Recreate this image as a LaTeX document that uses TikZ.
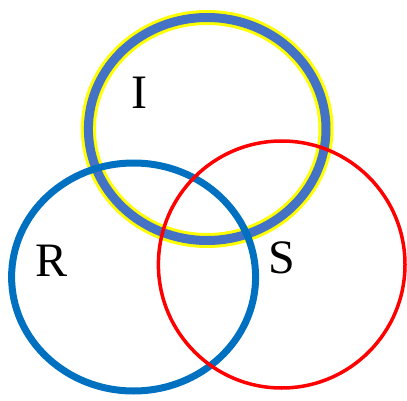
\documentclass[tikz,border=0pt]{standalone}
\usepackage{fontspec}
\setmainfont{Liberation Serif}
\definecolor{ibl}{HTML}{4472C4}
\definecolor{iyl}{HTML}{FFFF00}
\definecolor{rbl}{HTML}{0070C0}
\definecolor{sred}{HTML}{FF0000}
\begin{document}
\begin{tikzpicture}[x=1pt,y=-1pt,
  lbl/.style={inner sep=0pt,font=\fontsize{48}{48}\selectfont}]
\useasboundingbox (0,0) rectangle (407,401);
% I circle
\draw[iyl,line width=15pt] (207.2,129) ellipse [x radius=118.8,y radius=111.5];
\draw[ibl,line width=9pt] (207.2,129) ellipse [x radius=118.8,y radius=111.5];
% R circle
\draw[rbl,line width=7pt] (133.6,277) ellipse [x radius=122,y radius=114];
% S circle
\draw[sred,line width=3.5pt] (281.7,264.5) ellipse [x radius=123.3,y radius=123.5];
\node[lbl] (I) at (139,93) {I};
\node[lbl] (R) at (52,261) {R};
\node[lbl] (S) at (282,258) {S};
\end{tikzpicture}
\end{document}
